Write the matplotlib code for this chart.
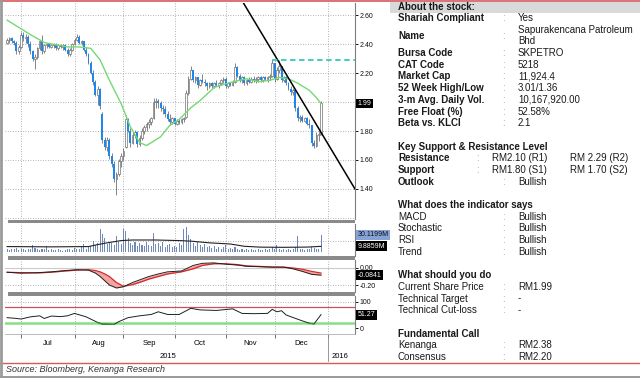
import matplotlib.pyplot as plt
from matplotlib.patches import Rectangle
from matplotlib.lines import Line2D
import numpy as np
import pandas as pd

plt.rcParams['font.family'] = ['Liberation Sans', 'DejaVu Sans']

# trading-day calendar, bar i sits on days[i]
days = pd.bdate_range('2015-06-22', '2016-01-29')
month_firsts = ['2015-07-01', '2015-08-01', '2015-09-01', '2015-10-01',
                '2015-11-01', '2015-12-01', '2016-01-01']
month_names = ['Jul', 'Aug', 'Sep', 'Oct', 'Nov', 'Dec']

# daily OHLC, bars 1..136
bar_idx = list(range(1, 137))
opens = [2.41, 2.43, 2.44, 2.42, 2.41, 2.35, 2.38, 2.46, 2.44, 2.45,
         2.40, 2.35, 2.30, 2.31, 2.37, 2.42, 2.35, 2.39, 2.40, 2.38,
         2.39, 2.40, 2.37, 2.39, 2.38, 2.39, 2.36, 2.33, 2.36, 2.40,
         2.43, 2.45, 2.41, 2.42, 2.36, 2.33, 2.27, 2.20, 2.14, 2.05,
         2.09, 1.92, 1.74, 1.69, 1.74, 1.63, 1.57, 1.47, 1.50, 1.59,
         1.63, 1.69, 1.88, 1.80, 1.72, 1.77, 1.79, 1.71, 1.75, 1.80,
         1.83, 1.85, 1.86, 1.89, 2.00, 2.01, 1.99, 1.96, 1.95, 1.92,
         1.88, 1.86, 1.89, 1.85, 1.87, 1.86, 1.88, 1.90, 2.06, 2.16,
         2.22, 2.15, 2.17, 2.12, 2.15, 2.14, 2.13, 2.11, 2.13, 2.11,
         2.13, 2.12, 2.13, 2.15, 2.16, 2.11, 2.13, 2.12, 2.14, 2.24,
         2.18, 2.15, 2.17, 2.13, 2.15, 2.14, 2.16, 2.15, 2.16, 2.17,
         2.15, 2.17, 2.16, 2.17, 2.18, 2.27, 2.16, 2.22, 2.25, 2.15,
         2.17, 2.13, 2.09, 2.07, 2.08, 1.96, 1.89, 1.90, 1.87, 1.89,
         1.85, 1.84, 1.72, 1.70, 1.77, 1.78]
highs = [2.44, 2.45, 2.45, 2.43, 2.42, 2.39, 2.48, 2.48, 2.47, 2.46,
         2.42, 2.36, 2.33, 2.38, 2.43, 2.46, 2.40, 2.41, 2.41, 2.40,
         2.41, 2.41, 2.40, 2.40, 2.40, 2.40, 2.37, 2.37, 2.41, 2.44,
         2.47, 2.46, 2.43, 2.42, 2.38, 2.34, 2.28, 2.22, 2.15, 2.11,
         2.10, 1.93, 1.76, 1.76, 1.75, 1.65, 1.59, 1.52, 1.61, 1.65,
         1.68, 1.91, 1.89, 1.82, 1.79, 1.81, 1.80, 1.77, 1.82, 1.84,
         1.86, 1.88, 1.90, 2.03, 2.03, 2.02, 2.01, 1.98, 1.97, 1.94,
         1.92, 1.90, 1.89, 1.88, 1.88, 1.89, 1.90, 2.08, 2.18, 2.25,
         2.22, 2.18, 2.17, 2.16, 2.19, 2.16, 2.14, 2.14, 2.14, 2.14,
         2.15, 2.14, 2.16, 2.17, 2.17, 2.14, 2.14, 2.15, 2.27, 2.25,
         2.19, 2.18, 2.18, 2.16, 2.17, 2.17, 2.18, 2.17, 2.18, 2.18,
         2.18, 2.18, 2.18, 2.19, 2.30, 2.27, 2.24, 2.29, 2.25, 2.18,
         2.18, 2.14, 2.11, 2.10, 2.08, 1.97, 1.91, 1.91, 1.90, 1.90,
         1.88, 1.84, 1.74, 1.79, 1.80, 2.01]
lows = [2.40, 2.41, 2.41, 2.39, 2.33, 2.33, 2.37, 2.42, 2.41, 2.38,
        2.33, 2.28, 2.23, 2.30, 2.36, 2.33, 2.34, 2.37, 2.37, 2.37,
        2.37, 2.36, 2.36, 2.37, 2.36, 2.35, 2.32, 2.32, 2.35, 2.39,
        2.42, 2.40, 2.39, 2.35, 2.32, 2.26, 2.19, 2.12, 2.04, 1.98,
        1.95, 1.72, 1.67, 1.66, 1.61, 1.55, 1.45, 1.36, 1.49, 1.55,
        1.60, 1.68, 1.79, 1.69, 1.71, 1.75, 1.69, 1.70, 1.74, 1.78,
        1.80, 1.82, 1.84, 1.88, 1.96, 1.96, 1.94, 1.92, 1.90, 1.87,
        1.84, 1.85, 1.84, 1.84, 1.85, 1.85, 1.86, 1.89, 2.05, 2.15,
        2.14, 2.13, 2.10, 2.11, 2.13, 2.11, 2.08, 2.10, 2.10, 2.10,
        2.11, 2.10, 2.12, 2.13, 2.10, 2.10, 2.11, 2.11, 2.13, 2.17,
        2.14, 2.13, 2.12, 2.12, 2.13, 2.13, 2.14, 2.13, 2.14, 2.14,
        2.14, 2.15, 2.14, 2.15, 2.17, 2.14, 2.15, 2.20, 2.14, 2.14,
        2.12, 2.08, 2.05, 2.05, 1.94, 1.87, 1.86, 1.86, 1.86, 1.84,
        1.82, 1.70, 1.68, 1.69, 1.73, 1.77]
closes = [2.43, 2.44, 2.42, 2.41, 2.35, 2.38, 2.46, 2.44, 2.45, 2.40,
          2.35, 2.30, 2.31, 2.37, 2.42, 2.35, 2.39, 2.40, 2.38, 2.39,
          2.40, 2.37, 2.39, 2.38, 2.39, 2.36, 2.33, 2.36, 2.40, 2.43,
          2.45, 2.41, 2.42, 2.36, 2.33, 2.27, 2.20, 2.14, 2.05, 2.09,
          1.97, 1.74, 1.69, 1.74, 1.63, 1.57, 1.47, 1.50, 1.59, 1.63,
          1.66, 1.88, 1.80, 1.72, 1.77, 1.79, 1.71, 1.75, 1.80, 1.83,
          1.85, 1.86, 1.89, 2.00, 2.01, 1.99, 1.96, 1.95, 1.92, 1.88,
          1.86, 1.89, 1.85, 1.87, 1.86, 1.88, 1.89, 2.06, 2.16, 2.22,
          2.15, 2.17, 2.12, 2.15, 2.14, 2.13, 2.11, 2.13, 2.11, 2.13,
          2.12, 2.13, 2.15, 2.16, 2.11, 2.13, 2.12, 2.14, 2.24, 2.18,
          2.15, 2.17, 2.13, 2.15, 2.14, 2.16, 2.15, 2.16, 2.17, 2.15,
          2.17, 2.16, 2.17, 2.18, 2.27, 2.16, 2.22, 2.25, 2.15, 2.17,
          2.13, 2.09, 2.07, 2.08, 1.96, 1.89, 1.90, 1.87, 1.89, 1.85,
          1.84, 1.72, 1.70, 1.77, 1.78, 1.99]

# moving average (green), read at selected bars
ma_idx = [1, 10, 17, 27, 32, 37, 41, 45, 50, 54, 58, 61, 67, 71, 75, 80, 84,
          90, 96, 101, 104, 109, 114, 118, 122, 126, 131, 134, 136]
ma_val = [2.565, 2.475, 2.41, 2.38, 2.38, 2.37, 2.29, 2.15, 1.99, 1.83, 1.72,
          1.70, 1.76, 1.84, 1.88, 1.96, 2.01, 2.10, 2.13, 2.15, 2.16, 2.14,
          2.15, 2.17, 2.16, 2.13, 2.08, 2.03, 1.99]

# downtrend line and R2 level
trend_idx = [102, 150.6]
trend_val = [2.70, 1.40]
r2_level = 2.29
r2_start = 115
price_ticks = [1.40, 1.60, 1.80, 2.00, 2.20, 2.40, 2.60]

# volume (millions)
volume = [5, 4, 6, 5, 7, 4, 5, 6, 4, 5,
          6, 12, 7, 5, 4, 6, 5, 10, 4, 5,
          3, 4, 5, 3, 2, 4, 6, 5, 4, 7,
          5, 6, 8, 14, 6, 9, 11, 20, 13, 15,
          40, 32, 24, 14, 18, 16, 12, 28, 17, 14,
          40, 37, 24, 16, 13, 18, 11, 15, 12, 10,
          17, 13, 11, 34, 14, 16, 10, 18, 9, 12,
          14, 8, 11, 9, 15, 12, 40, 44, 30, 22,
          16, 10, 18, 12, 9, 14, 8, 11, 7, 10,
          6, 9, 5, 8, 12, 6, 7, 5, 9, 6,
          4, 5, 3, 6, 4, 5, 3, 4, 6, 3,
          4, 5, 3, 6, 8, 5, 12, 6, 4, 5,
          3, 6, 4, 5, 8, 28, 5, 6, 4, 5,
          6, 8, 7, 5, 6, 30.1199]
vol_ma_idx = [1, 20, 36, 40, 44, 50, 55, 65, 75, 80, 88, 97, 103, 110, 120, 130, 136]
vol_ma_val = [9.5, 9.0, 9.5, 13, 16, 20, 21, 21, 20, 19, 16, 14, 10, 8.5, 8.2, 8.6, 9.8859]

# MACD and signal
macd_idx = [1, 7, 14, 20, 26, 31, 36, 39, 41, 43, 45, 48, 51, 55, 59, 62, 66,
            70, 76, 81, 85, 90, 95, 100, 104, 110, 115, 120, 124, 128, 132, 136]
macd_val = [-0.05, -0.06, -0.055, -0.045, -0.03, -0.02, -0.025, -0.06, -0.10,
            -0.15, -0.20, -0.235, -0.22, -0.17, -0.13, -0.10, -0.07, -0.045,
            -0.035, 0.03, 0.055, 0.06, 0.045, 0.035, 0.02, 0.015, 0.01, 0.01,
            -0.01, -0.04, -0.075, -0.0841]
signal_val = [-0.05, -0.055, -0.058, -0.05, -0.035, -0.025, -0.02, -0.03, -0.045,
              -0.07, -0.10, -0.17, -0.215, -0.195, -0.16, -0.13, -0.10, -0.07,
              -0.045, -0.01, 0.03, 0.05, 0.05, 0.04, 0.025, 0.018, 0.012, 0.01,
              0.0, -0.015, -0.04, -0.06]

# stochastic
stoch_idx = [1, 4, 7, 11, 15, 17, 20, 24, 27, 30, 35, 40, 42, 47, 49, 53, 58,
             63, 66, 70, 75, 80, 84, 91, 98, 102, 107, 113, 115, 117, 119, 121,
             127, 131, 133, 136]
stoch_val = [40, 38, 35, 43, 47, 37, 46, 44, 47, 56, 43, 22, 16, 15, 25, 40, 47,
             52, 62, 52, 52, 75, 69, 67, 73, 56, 55, 56, 71, 62, 66, 50,
             31, 19, 17, 51.27]
stoch_hi, stoch_lo = 80, 20

# side table text
about_labels = ['Shariah Compliant', 'Name', 'Bursa Code', 'CAT Code', 'Market Cap',
                '52 Week High/Low', '3-m Avg. Daily Vol.', 'Free Float (%)', 'Beta vs. KLCI']
about_values = ['Yes', 'Sapurakencana Patroleum\nBhd', 'SKPETRO', '5218', '11,924.4',
                '3.01/1.36', '10,167,920.00', '52.58%', '2.1']
level_labels = ['Resistance', 'Support']
level_1 = ['RM2.10 (R1)', 'RM1.80 (S1)']
level_2 = ['RM 2.29 (R2)', 'RM 1.70 (S2)']
outlook = 'Bullish'
indicator_labels = ['MACD', 'Stochastic', 'RSI', 'Trend']
indicator_values = ['Bullish', 'Bullish', 'Bullish', 'Bullish']
action_labels = ['Current Share Price', 'Technical Target', 'Technical Cut-loss']
action_values = ['RM1.99', '-', '-']
call_labels = ['Kenanga', 'Consensus']
call_values = ['RM2.38', 'RM2.20']

W, H = 640, 378
fig = plt.figure(figsize=(6.4, 3.78), dpi=100)

XLIM = (0.1, 150.6)
month_starts = [int(days.searchsorted(pd.Timestamp(d))) for d in month_firsts]
month_mids = [(a + b) / 2 for a, b in zip(month_starts[:-1], month_starts[1:])]
GRID = dict(color='#9a9a9a', lw=0.6, ls=(0, (1, 2)), zorder=0)


def panel(top, bottom):
    return fig.add_axes([5 / W, 1 - bottom / H, 350 / W, (bottom - top) / H])


def style(ax):
    ax.set_xlim(*XLIM)
    ax.patch.set_alpha(0)
    for s in ['left', 'top', 'bottom']:
        ax.spines[s].set_visible(False)
    ax.spines['right'].set_color('#7f7f7f')
    ax.spines['right'].set_linewidth(0.8)
    ax.yaxis.tick_right()
    ax.tick_params(axis='y', length=2, width=0.7, pad=1.5, labelsize=5, colors='#111111')
    ax.set_xticks([])
    for m in month_starts:
        ax.axvline(m, **GRID)


def value_box(ax, y, text, fc='black', tc='white'):
    ax.text(1.008, y, text, transform=ax.get_yaxis_transform(), fontsize=5,
            color=tc, va='center', ha='left', clip_on=False, zorder=10,
            bbox=dict(boxstyle='square,pad=0.2', fc=fc, ec='none'))


# price panel
ax = panel(3, 219)
style(ax)
ax.set_ylim(1.193, 2.683)
ax.set_yticks(price_ticks)
# the last-price box sits where the nearest tick label would be
last = closes[-1]
ax.set_yticklabels(['' if abs(v - last) < 0.05 else f'{v:.2f}' for v in price_ticks])
for v in price_ticks + [1.20]:
    ax.axhline(v, **GRID)

o, h, l, c = map(np.array, (opens, highs, lows, closes))
xi = np.array(bar_idx)
up = c >= o
ax.vlines(xi, l, h, color='#707070', lw=0.6, zorder=2)
ax.bar(xi[up], np.maximum(c[up] - o[up], 0.005), bottom=o[up], width=0.7,
       facecolor='white', edgecolor='#707070', lw=0.5, zorder=3)
ax.bar(xi[~up], np.maximum(o[~up] - c[~up], 0.005), bottom=c[~up], width=0.85,
       color='#1f86ee', lw=0, zorder=3)
ax.plot(ma_idx, ma_val, color='#74d874', lw=1.0, zorder=4)
ax.plot(trend_idx, trend_val, color='black', lw=1.1, zorder=5)
ax.plot([r2_start, XLIM[1]], [r2_level, r2_level], color='#39c5bd', lw=1.3,
        ls=(0, (3, 2)), zorder=5)
value_box(ax, last, f'{last:.2f}')

# volume panel
av = panel(224, 256)
style(av)
av.set_ylim(-7, 49)
av.set_yticks([])
av.axhline(20, **GRID)
av.bar(bar_idx, volume, width=0.45, color='#7189b6', zorder=2)
av.plot(vol_ma_idx, vol_ma_val, color='#222222', lw=0.8, zorder=3)
value_box(av, volume[-1], f'{volume[-1]:.4f}M', fc='#86a2d6', tc='#111111')
value_box(av, vol_ma_val[-1], f'{vol_ma_val[-1]:.4f}M')

# MACD panel
am = panel(260, 292)
style(am)
am.set_ylim(-0.282, 0.094)
am.set_yticks([0.0, -0.20])
am.set_yticklabels(['0.00', '-0.20'])
am.axhline(0, color='#cccccc', lw=0.8, zorder=0)
am.axhline(-0.20, **GRID)
am.fill_between(macd_idx, macd_val, signal_val, color='#f3a3a3', lw=0, zorder=1)
am.plot(macd_idx, signal_val, color='#d42a2a', lw=0.9, zorder=2)
am.plot(macd_idx, macd_val, color='#202020', lw=0.7, zorder=3)
value_box(am, macd_val[-1], f'{macd_val[-1]:.4f}')

# stochastic panel
ast = panel(296, 334)
style(ast)
ast.set_ylim(-21, 121)
ast.set_yticks([0, 100])
ast.set_yticklabels(['0', '100'])
ast.axhline(100, **GRID)
ast.axhline(stoch_hi, color='#c8505a', lw=0.9, zorder=1)
ast.axhline(stoch_lo, color='#86de86', lw=1.8, zorder=1)
sv = np.array(stoch_val, dtype=float)
ast.plot(stoch_idx, sv, color='#202020', lw=0.7, zorder=3)
ast.plot(stoch_idx, np.where(sv < stoch_lo + 4, sv, np.nan), color='#2a9a2a', lw=0.9, zorder=4)
value_box(ast, stoch_val[-1], f'{stoch_val[-1]:.2f}')

ast.spines['bottom'].set_visible(True)
ast.spines['bottom'].set_color('#b0b0b0')
ast.spines['bottom'].set_linewidth(0.6)
ast.set_xticks(month_starts)
ast.set_xticklabels([])
ast.set_xticks(month_mids, minor=True)
ast.set_xticklabels(month_names, minor=True, fontsize=5.5)
ast.tick_params(axis='x', which='major', length=3, width=0.6, color='#555555')
ast.tick_params(axis='x', which='minor', length=0, pad=4.5)


def fpos(x, y):
    return x / W, 1 - y / H


fig.text(*fpos(168, 357), '2015', fontsize=5.5, ha='center', va='center')
fig.text(*fpos(340, 357), '2016', fontsize=5.5, ha='center', va='center')
fig.add_artist(Line2D([328 / W] * 2, [1 - 335 / H, 1 - 361 / H], color='#888888', lw=0.6))

# separators between panels
for top in (219.5, 256.2, 292.2):
    fig.add_artist(Rectangle(fpos(8, top + 3.6), 347 / W, 3.6 / H, color='#8a8a8a', lw=0))

# frame lines
fig.add_artist(Line2D([0, 1], [1 - 0.8 / H] * 2, color='#d55a5a', lw=1.2))
fig.add_artist(Line2D([0, 1], [1 - 362.5 / H] * 2, color='#d55a5a', lw=1.0))
fig.add_artist(Line2D([0, 1], [1 - 376.8 / H] * 2, color='#9a9a9a', lw=1.4))
fig.add_artist(Line2D([1.2 / W] * 2, [0, 1], color='#9a9a9a', lw=2.0))

fig.text(*fpos(6, 369.5), 'Source: Bloomberg, Kenanga Research', fontsize=6.5,
         style='italic', va='center', color='#333333')

# side table
fig.add_artist(Rectangle(fpos(390, 12.5), 250 / W, 11 / H, color='#d9d9d9', lw=0))
TXT = dict(fontsize=7, va='center', color='#1a1a1a')
LX, CX, VX = 398, 502, 518
pitch = 11.69
fig.text(*fpos(LX, 6.5), 'About the stock:', fontweight='bold', **TXT)


def row(line, label, value, bold=False, colon_x=CX, value_x=VX):
    y = 18 + line * pitch
    fig.text(*fpos(LX, y), label, fontweight='bold' if bold else 'normal', **TXT)
    if value is not None:
        fig.text(*fpos(colon_x, y), ':', fontsize=7, va='center', color='#9a9a9a')
        fig.text(*fpos(value_x, y), value, **TXT)


line = 0
for lab, val in zip(about_labels, about_values):
    if '\n' in val:
        parts = val.split('\n')
        y0 = 18 + line * pitch
        y1 = y0 + pitch * (len(parts) - 1)
        fig.text(*fpos(LX, (y0 + y1) / 2), lab, fontweight='bold', **TXT)
        fig.text(*fpos(CX, (y0 + y1) / 2), ':', fontsize=7, va='center', color='#9a9a9a')
        for k, p in enumerate(parts):
            fig.text(*fpos(VX, y0 + k * pitch), p, **TXT)
        line += len(parts)
    else:
        row(line, lab, val, bold=True)
        line += 1

line += 1
row(line, 'Key Support & Resistance Level', None, bold=True)
line += 1
for lab, v1, v2 in zip(level_labels, level_1, level_2):
    row(line, lab, v1, bold=True, colon_x=476, value_x=492)
    fig.text(*fpos(570, 18 + line * pitch), v2, **TXT)
    line += 1
row(line, 'Outlook', outlook, bold=True)
line += 2

row(line, 'What does the indicator says', None, bold=True)
line += 1
for lab, val in zip(indicator_labels, indicator_values):
    row(line, lab, val)
    line += 1
line += 1

row(line, 'What should you do', None, bold=True)
line += 1
for lab, val in zip(action_labels, action_values):
    row(line, lab, val)
    line += 1
line += 1

row(line, 'Fundamental Call', None, bold=True)
line += 1
for lab, val in zip(call_labels, call_values):
    row(line, lab, val)
    line += 1

fig.savefig('out.png', dpi=100)
